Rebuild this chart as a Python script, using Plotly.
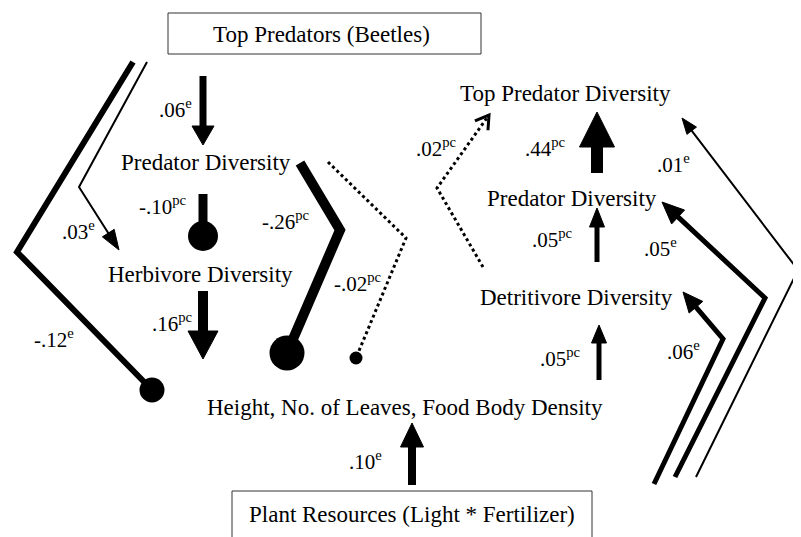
import math
import plotly.graph_objects as go

W, H = 801, 537
OFF = 8  # page body margin compensation
FONT = "Liberation Serif"

# ---- data: path coefficients and effect types ----
coef_labels = ["-.12", ".03", ".06", "-.10", ".16", "-.26", "-.02",
               ".10", ".05", ".05", ".44", ".02", ".06", ".05", ".01"]
coef_types = ["e", "e", "e", "pc", "pc", "pc", "pc",
              "e", "pc", "pc", "pc", "pc", "e", "e", "e"]

# node texts
node_names = ["Top Predators (Beetles)", "Predator Diversity", "Herbivore Diversity",
              "Height, No. of Leaves, Food Body Density",
              "Plant Resources (Light * Fertilizer)",
              "Top Predator Diversity", "Predator Diversity", "Detritivore Diversity"]
node_x = [321, 206, 200, 405, 412, 565, 572, 576]
node_y = [34, 162, 274, 407, 514, 93, 198, 297]

# ---- geometry (pixel layout) for each path, same order as coef_labels ----
path_pts = [
    [(133, 62), (17, 252), (152, 390)],
    [(147, 62), (79, 187), (119, 250)],
    [(203, 76), (203, 145)],
    [(203, 194), (203, 236)],
    [(203, 291), (203, 359)],
    [(300, 163), (340, 230), (287, 353)],
    [(328, 162), (406, 238), (356, 358)],
    [(412, 485), (412, 423)],
    [(599, 380), (599, 325)],
    [(597, 262), (597, 208)],
    [(597, 173), (597, 112)],
    [(483, 267), (437, 188), (489, 115)],
    [(654, 484), (723, 339), (683, 292)],
    [(675, 477), (765, 298), (662, 202)],
    [(696, 477), (798, 270), (682, 118)],
]
# (line width, dash, end kind, head length / circle diameter, head width)
path_style = [
    (6, "solid", "circle", 25, 0),
    (2, "solid", "arrow", 20, 14),
    (7, "solid", "arrow", 19, 22),
    (9, "solid", "circle", 30, 0),
    (10, "solid", "arrow", 28, 30),
    (10, "solid", "circle", 35, 0),
    (3, "dot", "circle", 13, 0),
    (8, "solid", "arrow", 24, 23),
    (5, "solid", "arrow", 18, 15),
    (5, "solid", "arrow", 19, 15),
    (12, "solid", "arrow", 35, 35),
    (3, "dot", "chevron", 13, 16),
    (5, "solid", "arrow", 20, 18),
    (5, "solid", "arrow", 22, 19),
    (2, "solid", "arrow", 16, 12),
]
# coefficient label positions (left x, middle y)
label_pos = [(32, 338), (60, 230), (157, 108), (137, 205), (150, 322),
             (260, 220), (332, 282), (347, 460), (538, 357), (530, 238),
             (523, 147), (414, 147), (665, 350), (642, 247), (655, 163)]

fig = go.Figure()

for pts, (lw, dash, kind, L, HW) in zip(path_pts, path_style):
    xs = [p[0] for p in pts]
    ys = [p[1] for p in pts]
    (x1, y1), (x0, y0) = pts[-1], pts[-2]
    d = math.hypot(x1 - x0, y1 - y0)
    ux, uy = (x1 - x0) / d, (y1 - y0) / d
    nx, ny = -uy, ux
    if kind == "arrow":
        bx, by = x1 - ux * (L - 2), y1 - uy * (L - 2)
        xs[-1], ys[-1] = bx, by
    fig.add_trace(go.Scatter(x=xs, y=ys, mode="lines",
                             line=dict(color="black", width=lw, dash=dash),
                             hoverinfo="skip", showlegend=False))
    if kind == "arrow":
        bx, by = x1 - ux * L, y1 - uy * L
        tx = [x1, bx + nx * HW / 2, bx - nx * HW / 2, x1]
        ty = [y1, by + ny * HW / 2, by - ny * HW / 2, y1]
        fig.add_trace(go.Scatter(x=tx, y=ty, mode="lines", fill="toself",
                                 fillcolor="black", line=dict(color="black", width=1),
                                 hoverinfo="skip", showlegend=False))
    elif kind == "circle":
        fig.add_trace(go.Scatter(x=[x1], y=[y1], mode="markers",
                                 marker=dict(size=L, color="black", line=dict(width=0)),
                                 hoverinfo="skip", showlegend=False))
    elif kind == "chevron":
        bx, by = x1 - ux * L, y1 - uy * L
        cx = [bx + nx * HW / 2, x1, bx - nx * HW / 2]
        cy = [by + ny * HW / 2, y1, by - ny * HW / 2]
        fig.add_trace(go.Scatter(x=cx, y=cy, mode="lines",
                                 line=dict(color="black", width=3),
                                 hoverinfo="skip", showlegend=False))

# boxes
fig.add_shape(type="rect", x0=168, x1=481, y0=13, y1=54,
              line=dict(color="#333", width=1), fillcolor="rgba(0,0,0,0)")
fig.add_shape(type="rect", x0=232, x1=592, y0=491, y1=560,
              line=dict(color="#333", width=1), fillcolor="rgba(0,0,0,0)")

for name, x, y in zip(node_names, node_x, node_y):
    fig.add_annotation(x=x, y=y, text=name, showarrow=False,
                       xanchor="center", yanchor="middle",
                       font=dict(family=FONT, size=23, color="black"))

for lab, t, (x, y) in zip(coef_labels, coef_types, label_pos):
    fig.add_annotation(x=x, y=y, text=f"{lab}<sup>{t}</sup>", showarrow=False,
                       xanchor="left", yanchor="middle",
                       font=dict(family=FONT, size=21, color="black"))

fig.update_layout(width=W, height=H, margin=dict(l=0, r=0, t=0, b=0),
                  paper_bgcolor="white", plot_bgcolor="white",
                  xaxis=dict(range=[OFF, W + OFF], visible=False, fixedrange=True),
                  yaxis=dict(range=[H + OFF, OFF], visible=False, fixedrange=True),
                  showlegend=False)

fig.write_html("out.html")
